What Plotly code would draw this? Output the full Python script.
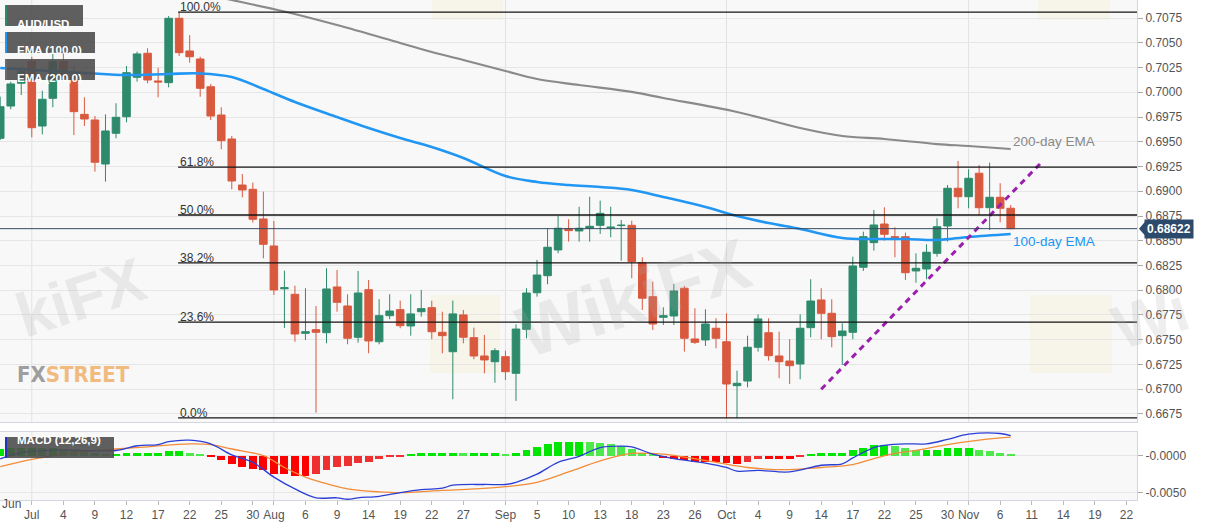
import pandas as pd
import plotly.graph_objects as go
from plotly.subplots import make_subplots

# AUD/USD daily candles, first candle on 2019-06-26 (weekdays only)
first_day = "2019-06-26"
opens = [0.69535, 0.69861, 0.70091, 0.70309, 0.69659, 0.69939, 0.70309, 0.70205, 0.69777, 0.69720,
         0.69275, 0.69586, 0.69753, 0.70151, 0.70394, 0.70114, 0.70097, 0.70747, 0.70417, 0.70336,
         0.70056, 0.69770, 0.69528, 0.69063, 0.69020, 0.68720, 0.68447, 0.68015, 0.67959, 0.67565,
         0.67602, 0.67571, 0.68033, 0.67841, 0.67525, 0.68006, 0.67480, 0.67743, 0.67804, 0.67639,
         0.67783, 0.67824, 0.67575, 0.67379, 0.67751, 0.67521, 0.67336, 0.67278, 0.67329, 0.67161,
         0.67605, 0.67975, 0.68147, 0.68407, 0.68622, 0.68599, 0.68626, 0.68656, 0.68632, 0.68653,
         0.68656, 0.68279, 0.67935, 0.67727, 0.67740, 0.68020, 0.67508, 0.67498, 0.67616, 0.67480,
         0.67036, 0.67083, 0.67424, 0.67571, 0.67336, 0.67285, 0.67255, 0.67622, 0.67902, 0.67767,
         0.67541, 0.67575, 0.68232, 0.68481, 0.68669, 0.68541, 0.68541, 0.68195, 0.68215, 0.68373,
         0.68649, 0.69030, 0.68945, 0.69182, 0.68834, 0.68939, 0.68828]
highs = [0.69955, 0.70107, 0.70258, 0.70359, 0.70016, 0.70397, 0.70460, 0.70265, 0.69949, 0.69760,
         0.69777, 0.69889, 0.70265, 0.70410, 0.70444, 0.70248, 0.70770, 0.70808, 0.70578, 0.70359,
         0.70084, 0.69848, 0.69558, 0.69174, 0.69087, 0.68996, 0.68700, 0.68198, 0.68046, 0.68020,
         0.67841, 0.68222, 0.68205, 0.67959, 0.68195, 0.68104, 0.67909, 0.67959, 0.67895, 0.67959,
         0.68003, 0.67895, 0.67783, 0.67895, 0.67801, 0.67622, 0.67548, 0.67414, 0.67389, 0.67656,
         0.68020, 0.68306, 0.68626, 0.68750, 0.68717, 0.68844, 0.68945, 0.68905, 0.68844, 0.68710,
         0.68703, 0.68333, 0.68087, 0.67828, 0.68063, 0.68043, 0.67818, 0.67808, 0.67717, 0.67767,
         0.67188, 0.67541, 0.67757, 0.67717, 0.67582, 0.67505, 0.67757, 0.68111, 0.68020, 0.67909,
         0.67666, 0.68339, 0.68592, 0.68811, 0.68838, 0.68636, 0.68582, 0.68373, 0.68464, 0.68727,
         0.69063, 0.69306, 0.69222, 0.69265, 0.69289, 0.69081, 0.68861]
lows = [0.69518, 0.69828, 0.69972, 0.69545, 0.69575, 0.69848, 0.70124, 0.69568, 0.69659, 0.69198,
        0.69097, 0.69535, 0.69697, 0.70107, 0.70091, 0.69949, 0.70050, 0.70366, 0.70299, 0.69955,
        0.69720, 0.69424, 0.69020, 0.68939, 0.68683, 0.68323, 0.67952, 0.67619, 0.67480, 0.67498,
        0.66763, 0.67464, 0.67783, 0.67454, 0.67470, 0.67363, 0.67454, 0.67707, 0.67616, 0.67541,
        0.67733, 0.67505, 0.67363, 0.66899, 0.67464, 0.67303, 0.67161, 0.67066, 0.67093, 0.66882,
        0.67515, 0.67935, 0.68060, 0.68373, 0.68491, 0.68491, 0.68491, 0.68568, 0.68535, 0.68299,
        0.68121, 0.67801, 0.67599, 0.67649, 0.67649, 0.67380, 0.67457, 0.67437, 0.67414, 0.66707,
        0.66707, 0.67020, 0.67380, 0.67289, 0.67111, 0.67053, 0.67101, 0.67525, 0.67505, 0.67424,
        0.67245, 0.67505, 0.68195, 0.68400, 0.68501, 0.68333, 0.68104, 0.68076, 0.68111, 0.68339,
        0.68491, 0.68828, 0.68828, 0.68760, 0.68609, 0.68687, 0.68616]
closes = [0.69854, 0.70084, 0.70208, 0.69642, 0.69929, 0.70309, 0.70151, 0.69804, 0.69730, 0.69293,
          0.69609, 0.69747, 0.70198, 0.70387, 0.70124, 0.70104, 0.70747, 0.70400, 0.70359, 0.70040,
          0.69760, 0.69511, 0.69104, 0.69013, 0.68717, 0.68464, 0.68003, 0.68025, 0.67558, 0.67581,
          0.67575, 0.68013, 0.67878, 0.67515, 0.67972, 0.67488, 0.67743, 0.67790, 0.67642, 0.67761,
          0.67814, 0.67581, 0.67541, 0.67761, 0.67525, 0.67336, 0.67296, 0.67389, 0.67177, 0.67608,
          0.67972, 0.68154, 0.68434, 0.68626, 0.68602, 0.68626, 0.68646, 0.68777, 0.68637, 0.68657,
          0.68289, 0.67919, 0.67659, 0.67743, 0.67993, 0.67515, 0.67474, 0.67659, 0.67515, 0.67053,
          0.67060, 0.67424, 0.67710, 0.67339, 0.67278, 0.67238, 0.67616, 0.67891, 0.67767, 0.67531,
          0.67588, 0.68245, 0.68541, 0.68659, 0.68565, 0.68535, 0.68177, 0.68222, 0.68384, 0.68642,
          0.69030, 0.68945, 0.69131, 0.68834, 0.68939, 0.68828, 0.68622]

ema100_dates = ["2019-06-26", "2019-07-08", "2019-07-12", "2019-07-18", "2019-07-23", "2019-07-26",
                "2019-07-31", "2019-08-05", "2019-08-09", "2019-08-14", "2019-08-19", "2019-08-22",
                "2019-08-27", "2019-09-02", "2019-09-05", "2019-09-10", "2019-09-13", "2019-09-18",
                "2019-09-23", "2019-09-27", "2019-10-02", "2019-10-07", "2019-10-10", "2019-10-16",
                "2019-10-21", "2019-10-24", "2019-10-29", "2019-11-01", "2019-11-07"]
ema100_values = [0.70245, 0.70195, 0.70174, 0.70185, 0.70190, 0.70154, 0.70033, 0.69902, 0.69750,
                 0.69639, 0.69538, 0.69447, 0.69336, 0.69154, 0.69094, 0.69063, 0.69043, 0.69013,
                 0.68942, 0.68841, 0.68750, 0.68679, 0.68619, 0.68528, 0.68518, 0.68518, 0.68508,
                 0.68538, 0.68568]

ema200_dates = ["2019-07-23", "2019-07-26", "2019-08-02", "2019-08-09", "2019-08-19", "2019-08-22",
                "2019-08-27", "2019-09-02", "2019-09-05", "2019-09-11", "2019-09-18", "2019-09-23",
                "2019-10-02", "2019-10-10", "2019-10-16", "2019-10-22", "2019-10-29", "2019-11-01",
                "2019-11-07"]
ema200_values = [0.71003, 0.70932, 0.70816, 0.70679, 0.70498, 0.70407, 0.70326, 0.70215, 0.70134,
                 0.70073, 0.70003, 0.69942, 0.69801, 0.69639, 0.69558, 0.69528, 0.69477, 0.69457,
                 0.69427]

macd_dates = ["2019-06-26", "2019-06-28", "2019-07-03", "2019-07-11", "2019-07-15", "2019-07-17",
              "2019-07-18", "2019-07-22", "2019-07-24", "2019-07-26", "2019-07-30", "2019-08-01",
              "2019-08-05", "2019-08-07", "2019-08-09", "2019-08-12", "2019-08-13", "2019-08-15",
              "2019-08-19", "2019-08-21", "2019-08-23", "2019-08-26", "2019-08-29", "2019-09-02",
              "2019-09-03", "2019-09-05", "2019-09-09", "2019-09-11", "2019-09-13", "2019-09-17",
              "2019-09-18", "2019-09-20", "2019-09-24", "2019-09-27", "2019-10-01", "2019-10-02",
              "2019-10-04", "2019-10-09", "2019-10-14", "2019-10-16", "2019-10-17", "2019-10-21",
              "2019-10-22", "2019-10-24", "2019-10-28", "2019-10-30", "2019-11-01", "2019-11-06",
              "2019-11-07"]
macd_values = [-0.00045, 0.0004, 0.00076, 0.0007, 0.00134, 0.0015, 0.0019, 0.0021, 0.0016, 0.0001,
               -0.0009, -0.0029, -0.0045, -0.0057, -0.0057, -0.0059, -0.0057, -0.0055, -0.0050,
               -0.0046, -0.0044, -0.0040, -0.0039, -0.0039, -0.0036, -0.0025, -0.0009, -0.0001,
               0.0011, 0.0013, 0.0012, 0.0002, -0.0004, -0.0010, -0.0016, -0.0021, -0.0020, -0.0022,
               -0.0013, -0.0011, -0.0003, 0.0011, 0.0014, 0.0016, 0.0016, 0.0022, 0.0029, 0.0030,
               0.0027]

signal_dates = ["2019-06-26", "2019-07-01", "2019-07-05", "2019-07-11", "2019-07-16", "2019-07-22",
                "2019-07-24", "2019-07-26", "2019-07-31", "2019-08-02", "2019-08-06", "2019-08-08",
                "2019-08-12", "2019-08-15", "2019-08-19", "2019-08-23", "2019-08-28", "2019-09-02",
                "2019-09-05", "2019-09-10", "2019-09-13", "2019-09-18", "2019-09-23", "2019-09-25",
                "2019-09-30", "2019-10-03", "2019-10-09", "2019-10-14", "2019-10-17", "2019-10-21",
                "2019-10-23", "2019-10-25", "2019-10-30", "2019-11-04", "2019-11-07"]
signal_values = [-0.0015, -0.0005, 0.0004, 0.0009, 0.0012, 0.0016, 0.0015, 0.0009, 0.0000, -0.0016,
                 -0.0029, -0.0038, -0.0045, -0.0049, -0.0050, -0.0047, -0.0045, -0.0042, -0.0036,
                 -0.0022, -0.0007, 0.0003, 0.0002, -0.0002, -0.0009, -0.0016, -0.0019, -0.0016,
                 -0.0012, -0.0004, 0.0003, 0.0007, 0.0015, 0.0021, 0.0025]

# one histogram value per candle
hist_values = [0.0009, 0.0011, 0.0011, 0.0011, 0.0010, 0.0010, 0.0009, 0.0008, 0.0006, 0.0003,
               0.0001, 0.0001, 0.0004, 0.0004, 0.0004, 0.0004, 0.0006, 0.0006, 0.0004, 0.0002,
               -0.0002, -0.0006, -0.0011, -0.0015, -0.0018, -0.0020, -0.0025, -0.0025, -0.0027,
               -0.0027, -0.0025, -0.0019, -0.0016, -0.0014, -0.0010, -0.0009, -0.0005, -0.0001,
               -0.00005, 0.0001, 0.0003, 0.0003, 0.0003, 0.0004, 0.0003, 0.0003, 0.0003, 0.0003,
               0.0002, 0.0004, 0.0008, 0.0012, 0.0016, 0.0018, 0.0019, 0.0019, 0.0018, 0.0017,
               0.0016, 0.0013, 0.0009, 0.0004, 0.0001, -0.0003, -0.0004, -0.0006, -0.0008, -0.0008,
               -0.0008, -0.0010, -0.0011, -0.0009, -0.0004, -0.0004, -0.0004, -0.0004, -0.0001,
               0.0002, 0.0004, 0.0004, 0.0004, 0.0007, 0.0011, 0.0014, 0.0015, 0.0013, 0.0010,
               0.0008, 0.0008, 0.0008, 0.0010, 0.0010, 0.0010, 0.0008, 0.0006, 0.0004, 0.0001]

fib_high = 0.7081
fib_low = 0.6671
fib_start = "2019-07-19"
fib_levels = [0.0, 23.6, 38.2, 50.0, 61.8, 100.0]

trend_dates = ["2019-10-14", "2019-11-12"]
trend_values = [0.6700, 0.6930]

last_price = 0.68622

tick_dates = ["2019-07-01", "2019-07-04", "2019-07-09", "2019-07-12", "2019-07-17", "2019-07-22",
              "2019-07-25", "2019-07-30", "2019-08-01", "2019-08-06", "2019-08-09", "2019-08-14",
              "2019-08-19", "2019-08-22", "2019-08-27", "2019-09-02", "2019-09-05", "2019-09-10",
              "2019-09-13", "2019-09-18", "2019-09-23", "2019-09-26", "2019-10-01", "2019-10-04",
              "2019-10-09", "2019-10-14", "2019-10-17", "2019-10-22", "2019-10-25", "2019-10-30",
              "2019-11-01", "2019-11-06", "2019-11-11", "2019-11-14", "2019-11-19", "2019-11-22"]
tick_labels = ["Jul", "4", "9", "12", "17", "22", "25", "30", "Aug", "6", "9", "14", "19", "22", "27",
               "Sep", "5", "10", "13", "18", "23", "26", "Oct", "4", "9", "14", "17", "22", "25", "30",
               "Nov", "6", "11", "14", "19", "22"]
month_starts = ["2019-07-01", "2019-08-01", "2019-09-02", "2019-10-01", "2019-11-01"]

GREEN = "#2e8a6c"
RED = "#d9593f"
BLUE = "#2196f3"
GRAY = "#8a8a8a"
FONT = "Liberation Sans, Arial, sans-serif"

# trading-day positions
days = pd.bdate_range(first_day, "2019-11-29")
pos = {d.strftime("%Y-%m-%d"): i for i, d in enumerate(days)}
candle_x = list(range(len(opens)))
x_range = [-0.02, 108.0]

fig = make_subplots(rows=2, cols=1, shared_xaxes=True, vertical_spacing=0.02, row_heights=[422, 68])

fig.add_trace(go.Candlestick(
    x=candle_x, open=opens, high=highs, low=lows, close=closes,
    increasing=dict(line=dict(color=GREEN, width=1), fillcolor=GREEN),
    decreasing=dict(line=dict(color=RED, width=1), fillcolor=RED),
    showlegend=False, hoverinfo="skip"), row=1, col=1)

fig.add_trace(go.Scatter(x=[pos[d] for d in ema200_dates], y=ema200_values, mode="lines",
                         line=dict(color=GRAY, width=2.2, shape="spline"), hoverinfo="skip"), row=1, col=1)
fig.add_trace(go.Scatter(x=[pos[d] for d in ema100_dates], y=ema100_values, mode="lines",
                         line=dict(color=BLUE, width=2.6, shape="spline"), hoverinfo="skip"), row=1, col=1)
fig.add_trace(go.Scatter(x=[pos[d] for d in trend_dates], y=trend_values, mode="lines",
                         line=dict(color="#9b1fae", width=3, dash="6px,5px"), hoverinfo="skip"), row=1, col=1)

# MACD histogram: lighter shade when the bar shrinks
hist_colors = []
for i, h in enumerate(hist_values):
    prev = hist_values[i - 1] if i else h
    if h >= 0:
        hist_colors.append("#00e600" if h >= prev else "#4ce84c")
    else:
        hist_colors.append("#ff0000" if h <= prev else "#ee3030")
fig.add_trace(go.Bar(x=candle_x, y=hist_values, marker=dict(color=hist_colors, line=dict(width=0)),
                     width=0.75, hoverinfo="skip"), row=2, col=1)
fig.add_trace(go.Scatter(x=[pos[d] for d in signal_dates], y=signal_values, mode="lines",
                         line=dict(color="#f28c38", width=1.3, shape="spline"), hoverinfo="skip"), row=2, col=1)
fig.add_trace(go.Scatter(x=[pos[d] for d in macd_dates], y=macd_values, mode="lines",
                         line=dict(color="#2b3fd6", width=1.3, shape="spline"), hoverinfo="skip"), row=2, col=1)

# plot area in pixels (for overlays placed like the original)
W, H = 1137, 500


def px(x):
    return x / W


def py(y):
    return 1 - y / H


# month grid lines
for d in month_starts:
    for yr in ("y domain", "y2 domain"):
        fig.add_shape(type="line", xref="x", yref=yr, x0=pos[d], x1=pos[d], y0=0, y1=1,
                      line=dict(color="#e2e2e2", width=1), layer="below")

# Fibonacci retracement levels
fx = pos[fib_start] - 0.1
for lvl in fib_levels:
    p = fib_low + (fib_high - fib_low) * lvl / 100
    fig.add_shape(type="line", xref="x", yref="y", x0=fx, x1=x_range[1], y0=p, y1=p,
                  line=dict(color="#151515", width=1.3))
    fig.add_annotation(x=fx, y=p, xref="x", yref="y", text=f"{lvl:.1f}%", showarrow=False,
                       xanchor="left", yanchor="bottom", yshift=-4,
                       font=dict(family=FONT, size=12, color="#333"))

# current price line and tag
fig.add_shape(type="line", xref="x domain", yref="y", x0=0, x1=1, y0=last_price, y1=last_price,
              line=dict(color="#34495e", width=1))
fig.add_shape(type="path", xref="paper", yref="y",
              path=f"M {px(1139)},{last_price} L {px(1145)},{last_price + 0.0007} "
                   f"L {px(1145)},{last_price - 0.0007} Z",
              fillcolor="#2c4a6b", line=dict(width=0))
fig.add_annotation(x=px(1144), y=last_price, xref="paper", yref="y", text=f"<b>{last_price:.5f}</b>",
                   showarrow=False, xanchor="left", bgcolor="#2c4a6b", borderpad=2,
                   font=dict(family=FONT, size=12, color="white"))

# EMA labels
fig.add_annotation(x=candle_x[-1], y=ema200_values[-1], xref="x", yref="y", text="200-day EMA",
                   showarrow=False, xanchor="left", yshift=7,
                   font=dict(family=FONT, size=13.5, color=GRAY))
fig.add_annotation(x=candle_x[-1], y=ema100_values[-1], xref="x", yref="y", text="100-day EMA",
                   showarrow=False, xanchor="left", yshift=-7,
                   font=dict(family=FONT, size=13.5, color=BLUE))

# watermark logos
for x0, y0, x1, y1 in [(430, 295, 500, 373), (1030, 295, 1112, 373), (432, -55, 503, 20), (1038, -55, 1110, 20)]:
    fig.add_shape(type="rect", xref="paper", yref="paper", x0=px(x0), x1=px(x1), y0=py(y1), y1=py(y0),
                  fillcolor="rgba(250,215,110,0.10)", line=dict(width=0), layer="below")
for txt, cx, cy, size in [("kiFX", 80, 297, 62), ("WikiFX", 633, 298, 72), ("Wi", 1150, 318, 62)]:
    fig.add_annotation(x=px(cx), y=py(cy), xref="paper", yref="paper", text=f"<b>{txt}</b>",
                       showarrow=False, textangle=-18, xanchor="center", yanchor="middle",
                       font=dict(family=FONT, size=size, color="rgba(170,170,170,0.2)"))
fig.add_annotation(x=px(15), y=py(389), xref="paper", yref="paper", showarrow=False, xanchor="left",
                   text='<b><span style="color:#8f8f8f">FX</span><span style="color:#f0b06a">STREET</span></b>',
                   font=dict(family="Liberation Sans Narrow, DejaVu Sans Condensed, sans-serif", size=22),
                   opacity=0.85)

# indicator tags at top left
for label, x0, y0, x1, y1, col in [("AUD/USD", 5, 5, 83, 26, GREEN),
                                   ("EMA (100,0)", 5, 32, 95, 53, BLUE),
                                   ("EMA (200,0)", 5, 59, 95, 80, "#6a6a6a"),
                                   ("MACD (12,26,9)", 5, 437, 114, 458, "#2233bb")]:
    fig.add_shape(type="rect", xref="paper", yref="paper", x0=px(x0), x1=px(x1), y0=py(y1), y1=py(y0),
                  fillcolor="rgba(78,78,78,0.9)", line=dict(width=0))
    fig.add_shape(type="rect", xref="paper", yref="paper", x0=px(x0), x1=px(x0 + 2), y0=py(y1), y1=py(y0),
                  fillcolor=col, line=dict(width=0))
    fig.add_annotation(x=px(x0 + 10), y=py((y0 + y1) / 2), xref="paper", yref="paper", text=f"<b>{label}</b>",
                       showarrow=False, xanchor="left", font=dict(family=FONT, size=11.5, color="white"))

fig.add_annotation(x=0, y=py(513), xref="paper", yref="paper", text="Jun", showarrow=False,
                   xanchor="left", font=dict(family=FONT, size=12, color="#555"))

axis_line = "#d3d6dc"
fig.update_layout(
    width=1207, height=526,
    margin=dict(l=0, r=70, t=0, b=26),
    paper_bgcolor="white", plot_bgcolor="#f8f8f8",
    showlegend=False, hovermode=False,
    boxgap=0.0, boxgroupgap=0.28, bargap=0,
    font=dict(family=FONT, size=12, color="#555"),
    xaxis=dict(range=x_range, rangeslider=dict(visible=False), showgrid=False, zeroline=False,
               showline=True, linecolor=axis_line, mirror=True, showticklabels=False, ticks=""),
    xaxis2=dict(range=x_range, showgrid=False, zeroline=False, showline=True, linecolor=axis_line,
                mirror=True, tickmode="array", tickvals=[pos[d] for d in tick_dates], ticktext=tick_labels,
                ticks="outside", ticklen=4, tickcolor="#bbb", tickfont=dict(size=12, color="#555")),
    yaxis=dict(side="right", range=[0.66669, 0.70932], tick0=0.6675, dtick=0.0025, tickformat=".4f",
               gridcolor="#e6e6e6", zeroline=False, showline=True, linecolor=axis_line, mirror=True,
               ticks="outside", ticklen=5, tickcolor="#aaa", tickfont=dict(size=12, color="#555")),
    yaxis2=dict(side="right", range=[-0.0060, 0.0032], tickmode="array", tickvals=[0, -0.005],
                ticktext=["-0.0000", "-0.0050"], gridcolor="#e6e6e6", zeroline=False, showline=True,
                linecolor=axis_line, mirror=True, ticks="outside", ticklen=5, tickcolor="#aaa",
                tickfont=dict(size=12, color="#555")),
)

# the page is photographed from its top-left corner, so drop the default body margin
fig.write_html("out.html", config={"displayModeBar": False},
               post_script="document.body.style.margin='0px';")
